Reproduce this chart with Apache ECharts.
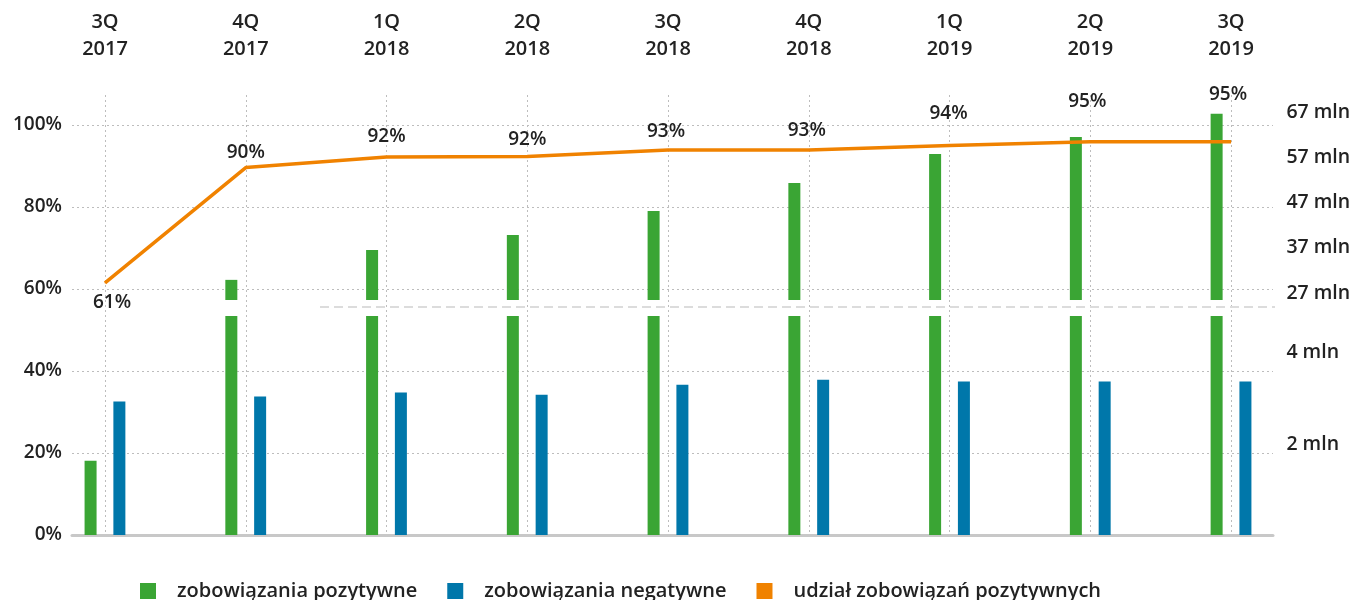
<!DOCTYPE html>
<html>
<head>
<meta charset="utf-8">
<script src="https://cdn.jsdelivr.net/npm/echarts@6/dist/echarts.min.js"></script>
<style>
  html, body { margin: 0; padding: 0; background: #fff; }
  #chart { width: 1355px; height: 600px; }
</style>
</head>
<body>
<div id="chart"></div>
<script>
// data
var quarters = ['3Q\n2017', '4Q\n2017', '1Q\n2018', '2Q\n2018', '3Q\n2018', '4Q\n2018', '1Q\n2019', '2Q\n2019', '3Q\n2019'];
var positive = [1.63, 29.9, 36.5, 39.8, 45.1, 51.3, 57.7, 61.5, 66.6];   // mln
var negative = [2.93, 3.04, 3.13, 3.08, 3.30, 3.41, 3.37, 3.37, 3.37];   // mln
var share = [61.5, 89.6, 92.2, 92.3, 93.9, 93.9, 95.0, 95.9, 95.9];      // %
var shareLabels = ['61%', '90%', '92%', '92%', '93%', '93%', '94%', '95%', '95%'];
var lowTicks = [2, 4];
var highTicks = [27, 37, 47, 57, 67];
var names = ['zobowiązania pozytywne', 'zobowiązania negatywne', 'udział zobowiązań pozytywnych'];

var GREEN = '#3aa534', BLUE = '#0077aa', ORANGE = '#f08200', TXT = '#222';
var FONT = 'Open Sans';

// label nudges for the share labels (px)
var labelNudge = [[7, 20], [0, -15], [0, -20], [0, -17], [-2, -18], [-2, -19], [-1, -32], [-3, -40], [-3, -47]];

// broken right scale: lower part 0..lowMax, upper part highMin..highMax
var lowMax = 4.81, highMin = 25.45, highMax = 70.76;

var chart = echarts.init(document.getElementById('chart'));

var shareData = share.map(function (v, i) {
    return { value: v, label: { offset: labelNudge[i] } };
});

var option = {
    animation: false,
    textStyle: { fontFamily: FONT },
    grid: [
        { left: 72, right: 82, top: 95, bottom: 65 },        // horizontal grid + left labels
        { left: 105, right: 124, top: 95, bottom: 65 },      // category lines + share line
        { left: 34.6, right: 53.6, top: 95, bottom: 300 },   // upper bar part
        { left: 34.6, right: 53.6, top: 316, bottom: 65 }    // lower bar part
    ],
    xAxis: [
        { gridIndex: 0, type: 'value', min: 0, max: 1, position: 'bottom',
          axisLine: { show: true, lineStyle: { color: '#c8c8c8', width: 3 } },
          axisTick: { show: false }, axisLabel: { show: false }, splitLine: { show: false } },
        { gridIndex: 1, type: 'category', data: quarters, position: 'top', boundaryGap: false,
          axisLine: { show: false }, axisTick: { show: false },
          axisLabel: { color: TXT, fontSize: 20, fontWeight: 600, lineHeight: 27, margin: 32, fontFamily: FONT },
          splitLine: { show: true, lineStyle: { color: '#bdbdbd', type: [2, 3], width: 1 } } },
        { gridIndex: 2, type: 'category', data: quarters, show: false },
        { gridIndex: 3, type: 'category', data: quarters, show: false }
    ],
    yAxis: [
        { gridIndex: 0, type: 'value', min: 0, max: 107.3, interval: 20,
          axisLine: { show: false }, axisTick: { show: false },
          axisLabel: { formatter: '{value}%', color: TXT, fontSize: 19, fontWeight: 600, margin: 10,
                       showMaxLabel: false, fontFamily: FONT },
          splitLine: { show: true, showMaxLine: false, showMinLine: false,
                       lineStyle: { color: '#bdbdbd', type: [2, 3], width: 1 } } },
        { gridIndex: 1, type: 'value', min: 0, max: 107.3, show: false },
        { gridIndex: 2, type: 'value', min: highMin, max: highMax, position: 'right',
          axisLine: { show: false }, axisTick: { show: false }, splitLine: { show: false },
          axisLabel: { customValues: highTicks, formatter: '{value} mln', color: TXT, fontSize: 19.5,
                       fontWeight: 600, margin: -15, align: 'left', fontFamily: FONT } },
        { gridIndex: 3, type: 'value', min: 0, max: lowMax, position: 'right',
          axisLine: { show: false }, axisTick: { show: false }, splitLine: { show: false },
          axisLabel: { customValues: lowTicks, formatter: '{value} mln', color: TXT, fontSize: 19.5,
                       fontWeight: 600, margin: -15, align: 'left', fontFamily: FONT } }
    ],
    legend: {
        data: names, left: 135, top: 576, icon: 'rect', itemWidth: 16, itemHeight: 16, itemGap: 30,
        textStyle: { color: TXT, fontSize: 20, fontWeight: 600, fontFamily: FONT, padding: [0, 0, 0, 16] }
    },
    graphic: [
        { type: 'line', z: 50, shape: { x1: 320, y1: 307, x2: 1275, y2: 307 },
          style: { stroke: '#dcdcdc', lineWidth: 2, lineDash: [9, 5] } }
    ],
    series: [
        { name: names[0], type: 'bar', xAxisIndex: 3, yAxisIndex: 3, data: positive,
          barWidth: 12, barGap: '140%', clip: true, itemStyle: { color: GREEN } },
        { name: names[1], type: 'bar', xAxisIndex: 3, yAxisIndex: 3, data: negative,
          barWidth: 12, barGap: '140%', clip: true, itemStyle: { color: BLUE } },
        { name: names[0], type: 'bar', xAxisIndex: 2, yAxisIndex: 2, data: positive,
          barWidth: 12, barGap: '140%', clip: true, itemStyle: { color: GREEN } },
        { name: 'pad', type: 'bar', xAxisIndex: 2, yAxisIndex: 2, data: quarters.map(function () { return null; }),
          barWidth: 12, barGap: '140%', silent: true },
        { name: names[2], type: 'line', xAxisIndex: 1, yAxisIndex: 1, data: shareData, z: 5,
          symbol: 'circle', symbolSize: 1, showSymbol: true,
          lineStyle: { color: ORANGE, width: 3.5 }, itemStyle: { color: ORANGE },
          label: { show: true, position: 'inside', formatter: function (p) { return shareLabels[p.dataIndex]; },
                   color: TXT, fontSize: 19, fontWeight: 600, fontFamily: FONT } }
    ]
};

chart.setOption(option);
</script>
</body>
</html>
